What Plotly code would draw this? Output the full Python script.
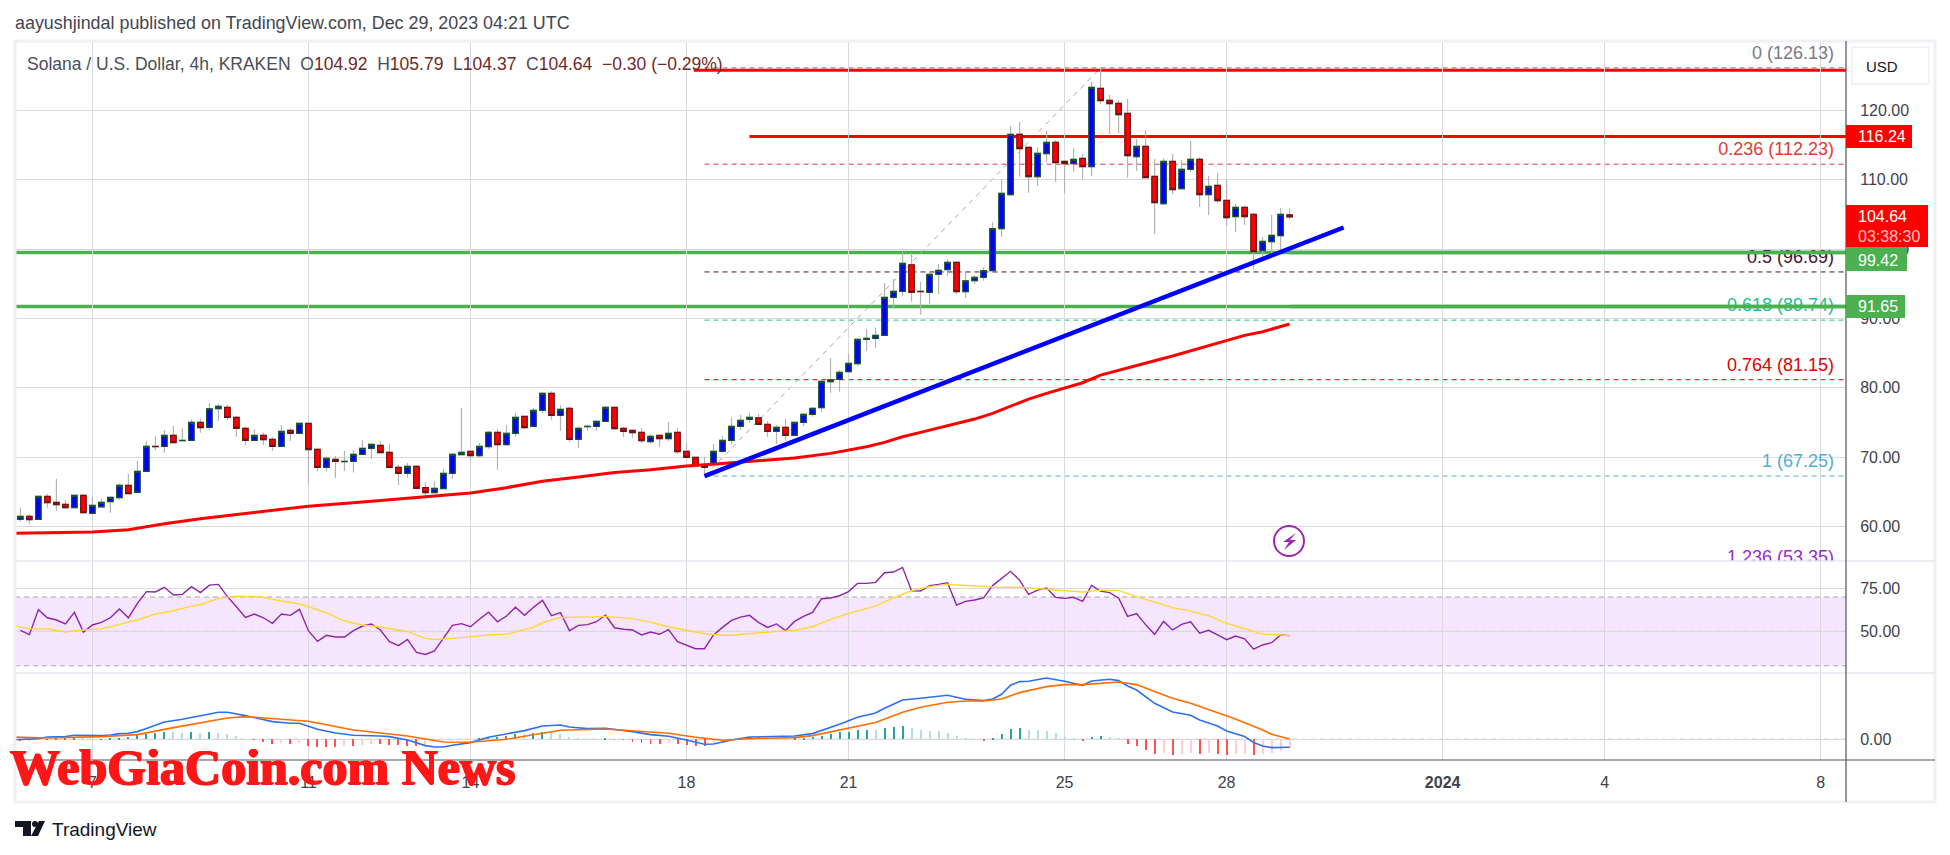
import pandas as pd
import plotly.graph_objects as go

# ---------- data ----------
BAR_START = "2023-12-05 16:00"
open_ = [61.00,61.43,61.00,64.31,63.45,63.16,62.68,64.46,61.86,62.82,
63.55,64.12,65.90,64.89,67.92,71.53,71.53,73.11,72.36,72.39,
74.99,74.27,76.96,77.15,75.71,74.12,72.39,73.11,72.54,71.53,
73.83,73.40,74.84,71.09,68.50,69.65,69.33,69.36,70.38,71.24,
71.68,70.67,68.50,67.64,68.65,65.59,64.86,65.43,67.64,70.33,
70.81,70.19,71.48,73.55,71.77,73.41,75.86,74.42,76.73,79.18,
76.00,77.01,72.54,74.37,74.42,75.14,77.16,74.13,73.84,73.55,
72.21,73.12,72.64,73.55,70.81,69.95,68.74,69.08,70.81,72.39,
74.41,75.42,75.66,74.70,73.69,74.27,73.12,74.99,76.14,77.11,
80.86,81.19,82.30,83.45,86.96,87.10,87.54,93.02,93.89,97.73,
93.89,93.74,96.34,97.01,98.07,93.84,95.42,95.91,96.87,102.93,
107.84,116.54,114.66,110.43,113.75,115.38,112.64,112.31,113.08,111.87,
123.17,121.44,121.01,119.57,113.32,114.81,110.48,106.54,112.64,108.70,
111.49,112.93,107.84,109.18,107.02,104.66,106.01,105.00,99.76,101.06,
101.92,104.92]
high = [62.68,61.77,64.46,64.65,66.82,63.79,64.46,64.65,64.22,63.93,
64.27,66.19,67.54,69.41,72.30,73.02,73.88,74.46,74.17,75.42,
75.57,77.73,77.63,77.58,75.95,74.41,74.03,73.55,72.87,74.60,
74.17,74.99,74.84,71.38,70.04,70.13,70.85,71.00,72.45,71.90,
72.30,71.87,68.84,69.13,68.84,66.36,66.46,68.26,70.57,77.06,
70.99,72.01,73.75,74.03,74.61,76.34,75.96,77.06,79.42,79.51,
77.45,77.30,74.42,74.61,75.14,77.35,77.16,74.32,73.84,74.18,
73.31,73.26,75.04,74.18,72.01,69.95,70.04,71.87,73.02,75.71,
76.05,76.34,76.19,75.18,74.61,75.47,74.99,76.30,77.20,81.19,
84.27,82.54,84.85,87.10,88.45,88.69,95.14,95.66,99.56,99.37,
95.28,96.72,97.83,98.55,98.20,96.72,96.24,97.35,103.85,110.05,
117.74,118.32,114.80,114.66,117.02,115.72,112.70,114.52,113.70,124.09,
126.13,122.21,121.44,121.63,115.87,117.16,112.98,113.08,113.70,112.84,
115.58,113.27,110.53,110.91,109.95,106.49,106.25,105.19,101.68,104.90,
105.86,105.79]
low = [60.66,60.32,61.00,62.68,62.25,62.54,62.68,61.77,61.81,62.82,
61.96,63.88,64.70,64.89,67.92,71.00,70.61,72.06,72.36,72.34,
73.50,73.88,75.18,75.33,72.92,71.72,72.39,71.72,70.85,71.53,
72.30,73.40,66.19,67.97,67.97,66.96,67.97,67.78,70.38,69.75,
70.62,68.50,65.96,67.01,65.40,64.04,64.86,65.43,66.82,70.33,
69.56,69.90,71.20,68.17,71.77,72.93,74.08,74.42,76.34,75.38,
73.74,72.21,71.34,73.79,73.79,75.14,73.94,72.93,72.78,72.01,
71.92,71.44,72.30,70.43,69.95,68.74,67.25,68.59,70.62,71.87,
73.88,74.94,74.70,72.92,71.87,72.30,73.12,74.46,75.81,76.53,
79.27,79.41,82.30,83.12,85.33,85.76,87.54,91.43,93.21,92.40,
90.52,92.06,93.50,96.15,93.50,92.92,94.94,95.42,96.60,101.78,
107.64,110.43,108.12,109.09,112.55,109.71,108.12,111.15,110.10,110.53,
120.91,116.59,116.73,110.29,111.25,110.29,102.16,106.35,107.93,108.70,
111.11,106.06,104.90,106.68,103.32,102.45,103.46,97.11,98.51,99.13,
99.61,104.37]
close = [61.43,60.95,64.31,63.40,63.11,62.68,64.46,61.96,63.02,63.45,
64.17,65.90,64.70,67.92,71.53,71.48,73.11,72.06,72.39,74.99,
74.22,76.96,77.30,75.71,74.12,72.39,73.11,72.49,71.53,73.69,
73.40,74.84,71.05,68.50,69.80,69.36,69.36,70.37,71.24,71.82,
70.62,68.50,67.64,68.65,65.48,64.86,65.48,67.64,70.38,70.67,
70.19,71.53,73.55,71.77,73.41,75.72,74.23,76.73,79.18,76.00,
76.87,72.54,74.13,74.42,75.14,77.16,74.08,73.70,73.50,72.35,
72.98,72.64,73.41,70.76,69.95,68.74,68.50,70.81,72.39,74.41,
75.28,75.71,74.70,73.69,74.27,73.12,74.99,76.14,77.01,80.90,
81.14,82.20,83.50,86.96,87.10,87.54,93.02,93.89,97.92,93.74,
93.85,96.34,96.91,98.07,93.84,95.42,95.91,96.87,102.93,108.03,
116.54,114.47,110.43,113.80,115.38,112.45,112.31,112.93,111.87,123.32,
121.39,120.96,119.37,113.46,114.81,110.29,106.68,112.64,108.56,111.49,
112.93,107.84,109.04,106.97,104.52,106.01,104.66,99.61,101.10,101.97,
105.00,104.64]

ma_idx = [-1,8,12,16,20,24,28,32,38,44,50,54,58,62,66,70,74,78,82,86,90,92,94,96,98,100,102,104,106,108,110,112,114,116,118,120,122,124,126,128,130,132,134,136,138,141]
ma_val = [58.98,59.20,59.50,60.38,61.10,61.72,62.34,62.91,63.52,64.14,64.81,65.58,66.51,67.13,67.75,68.16,68.70,69.08,69.46,69.85,70.52,70.95,71.48,72.11,72.92,73.55,74.22,74.85,75.47,76.29,77.35,78.36,79.17,79.94,80.71,81.82,82.54,83.21,83.89,84.56,85.33,86.05,86.77,87.54,88.07,89.18]

rsi = [50.6,48.1,62.6,57.9,56.6,54.3,61.0,49.6,53.7,55.2,57.9,63.0,57.9,66.3,73.1,72.9,75.6,71.1,71.5,76.0,
72.5,76.9,77.3,70.2,64.3,58.1,60.1,57.9,54.7,60.1,59.3,62.8,50.4,44.2,47.7,46.7,46.7,50.4,53.1,54.3,
50.8,44.0,41.7,45.3,37.8,36.6,38.6,46.1,53.5,54.5,52.7,57.0,61.2,55.6,58.9,64.0,59.3,64.0,68.0,59.1,
60.9,50.4,53.5,53.9,55.6,59.5,52.1,51.2,50.8,47.9,49.6,48.3,51.0,44.0,42.1,39.9,39.9,47.9,52.3,56.4,
58.3,59.3,55.2,52.3,54.3,50.4,55.8,58.7,61.0,69.0,69.4,70.7,73.1,77.9,77.9,78.5,84.1,84.5,87.2,73.6,
73.4,76.6,77.3,78.3,65.3,67.4,68.2,69.4,76.6,80.6,84.9,79.8,71.5,74.0,75.2,69.8,69.2,69.8,67.4,76.7,
73.4,72.5,69.4,58.7,60.3,53.9,48.3,55.8,50.8,54.1,55.6,49.0,50.6,47.9,45.2,47.3,45.7,39.7,42.1,43.4,
47.9,47.5]
rsi_ma_idx = [-1,1,3,5,7,9,10,11,13,15,17,19,20,22,24,26,27,28,31,32,34,36,38,40,43,45,46,48,50,52,54,56,57,58,60,62,65,68,70,72,74,76,78,79,81,84,86,88,90,92,95,97,99,101,103,106,108,111,113,116,118,120,122,124,126,128,130,132,134,136,138,140,141]
rsi_ma = [53.5,51.6,51.4,49.6,50.8,51.6,52.5,54.1,56.6,60.1,62.0,64.7,65.5,69.2,70.5,70.3,70.0,68.6,65.9,64.3,60.9,56.0,53.7,52.5,49.8,45.9,45.3,45.9,46.9,47.9,48.4,51.2,52.3,55.0,58.1,58.3,58.7,57.4,55.4,52.7,50.6,48.6,47.7,47.7,48.8,49.8,50.6,52.7,57.0,60.5,64.7,69.6,73.6,76.0,77.3,76.4,75.8,75.6,74.8,73.6,72.9,74.0,73.8,70.2,66.9,63.8,61.8,59.1,54.7,51.4,48.4,47.9,47.5]

macd_idx = [-1,1,2,3,5,6,7,9,10,11,12,13,14,16,18,20,22,23,25,28,30,31,33,35,37,40,41,43,45,46,47,48,50,52,54,56,58,60,61,63,65,68,70,72,74,76,77,79,81,84,86,88,89,91,93,95,96,98,100,103,105,107,108,109,110,111,112,114,116,118,119,121,122,123,124,126,128,130,131,133,134,136,137,138,139,141]
macd = [-0.07,0,0.07,0.23,0.27,0.4,0.37,0.37,0.43,0.57,0.6,0.77,1.07,1.73,2.0,2.33,2.7,2.7,2.37,1.77,1.6,1.6,1.0,0.63,0.4,0.33,0.27,-0.07,-0.63,-0.77,-0.77,-0.6,-0.33,0.2,0.53,0.87,1.33,1.43,1.23,1.07,1.1,0.77,0.47,0.3,-0.07,-0.5,-0.47,-0.07,0.23,0.3,0.33,0.57,0.87,1.5,2.2,2.63,3.1,3.93,4.1,4.4,4.0,3.87,4.03,4.5,5.4,5.77,5.8,6.13,5.8,5.4,5.83,6.0,5.87,5.33,4.93,3.6,2.73,2.4,1.93,1.33,0.83,0.27,-0.33,-0.67,-0.83,-0.8]
signal_idx = [-1,3,9,13,17,20,23,25,28,32,37,43,47,50,54,58,60,65,70,72,75,78,82,86,88,91,95,98,100,103,105,107,109,111,114,116,118,122,124,126,128,130,133,135,138,139,141]
signal = [0.23,0.13,0.27,0.47,1.17,1.63,2.13,2.27,2.1,1.8,0.93,0.33,-0.27,-0.3,0,0.57,0.9,1.03,0.77,0.6,0.2,-0.1,0.1,0.17,0.37,0.93,1.67,2.7,3.2,3.7,3.83,3.83,4.03,4.67,5.27,5.47,5.47,5.73,5.47,4.77,4.1,3.6,2.7,2.03,0.93,0.5,0.03]
hist = [-0.17,-0.1,-0.03,0.03,0.05,0.05,0.08,0.05,0.03,0.03,
0.1,0.15,0.2,0.4,0.53,0.6,0.73,0.7,0.67,0.73,
0.63,0.73,0.6,0.53,0.33,0.02,-0.07,-0.23,-0.47,-0.4,
-0.47,-0.4,-0.7,-0.73,-0.75,-0.77,-0.7,-0.7,-0.57,-0.47,
-0.47,-0.53,-0.57,-0.63,-0.67,-0.6,-0.3,-0.27,-0.13,-0.07,
-0.05,0.1,0.23,0.27,0.33,0.53,0.5,0.67,0.73,0.7,
0.53,0.2,0.1,0.02,0.01,0.07,-0.03,-0.05,-0.23,-0.33,
-0.43,-0.47,-0.33,-0.47,-0.53,-0.63,-0.67,-0.47,-0.27,-0.07,
0.03,0.2,0.27,0.2,0.17,0.1,0.1,0.17,0.27,0.37,
0.57,0.7,0.77,0.93,0.93,0.9,1.13,1.23,1.33,1.17,
0.97,0.83,0.8,0.67,0.33,0.07,0.03,-0.13,0.07,0.5,
1.03,1.13,0.97,0.93,0.83,0.67,0.2,0.07,-0.13,0.23,
0.33,0.2,0.07,-0.43,-0.67,-1.07,-1.43,-1.4,-1.53,-1.43,
-1.4,-1.43,-1.4,-1.47,-1.57,-1.47,-1.43,-1.53,-1.5,-1.4,
-1.13,-0.9]

fib_ratio = ["0","0.236","0.5","0.618","0.764","1","1.236"]
fib_price = [126.13,112.23,96.69,89.74,81.15,67.25,53.35]
fib_color = ["#787b86","#e53935","#4a1238","#22c08f","#e00000","#54abd8","#9c27d0"]
fib_shown = [True,True,True,True,True,True,False]
res_levels = [125.77,116.24]
res_start_idx = [74.8,81]
sup_levels = [99.5,91.72]
trend_idx = [76,147]
trend_val = [67.25,103.1]

tick_dates = ["2023-12-07","2023-12-11","2023-12-14","2023-12-18","2023-12-21","2023-12-25","2023-12-28","2024-01-01","2024-01-04","2024-01-08"]
tick_text = ["7","11","14","18","21","25","28","<b>2024</b>","4","8"]
price_ticks = [60,70,80,90,100,110,120]

# ---------- geometry ----------
W, H = 1950, 855
L, R = 15, 1846
T, P1, P2, P3, B = 41, 561, 673, 760, 802
EDGE = 1935
FONT = "Liberation Sans"
FIB_LIFT = 0.65
t0 = pd.Timestamp(BAR_START)
def bar_t(i):
    return t0 + pd.Timedelta(hours=4 * i)
def px_t(px):
    return pd.Timestamp("2023-12-07") + pd.Timedelta(days=(px - 92.4) / 54.01)
def X(px): return px / W
def Y(py): return 1 - py / H

times = [bar_t(i) for i in range(len(close))]
xmax = px_t(R)

fig = go.Figure()

# fib labels go below the right-hand part of the support lines
fig.add_trace(go.Scatter(
    x=[px_t(1834)] * len(fib_price), y=[p + FIB_LIFT for p in fib_price], mode="text",
    text=[f"{r} ({p:.2f})" for r, p in zip(fib_ratio, fib_price)],
    textposition="top left", textfont=dict(family=FONT, size=18, color=fib_color),
    hoverinfo="skip", showlegend=False, xaxis="x", yaxis="y"))
for lv in sup_levels:
    fig.add_trace(go.Scatter(x=[bar_t(141), xmax], y=[lv, lv], mode="lines",
                             line=dict(color="#4caf50", width=3.5), hoverinfo="skip",
                             showlegend=False, xaxis="x", yaxis="y"))

# wicks, then bodies
fig.add_trace(go.Candlestick(
    x=times, open=open_, high=high, low=low, close=close, xaxis="x", yaxis="y",
    increasing=dict(line=dict(color="#b4b4b4", width=1.2), fillcolor="#0000ff"),
    decreasing=dict(line=dict(color="#b4b4b4", width=1.2), fillcolor="#ff0000"),
    hoverinfo="skip", showlegend=False))
fig.add_trace(go.Candlestick(
    x=times, open=open_, close=close,
    high=[max(a, b) for a, b in zip(open_, close)],
    low=[min(a, b) for a, b in zip(open_, close)], xaxis="x", yaxis="y",
    increasing=dict(line=dict(color="#14532d", width=1.2), fillcolor="#0000ff"),
    decreasing=dict(line=dict(color="#6b1414", width=1.2), fillcolor="#ff0000"),
    hoverinfo="skip", showlegend=False))

fig.add_trace(go.Scatter(x=[bar_t(i) for i in ma_idx], y=ma_val, mode="lines",
                         line=dict(color="#ff0000", width=3), hoverinfo="skip",
                         showlegend=False, xaxis="x", yaxis="y"))
fig.add_trace(go.Scatter(x=[bar_t(i) for i in trend_idx], y=trend_val, mode="lines",
                         line=dict(color="#0000ff", width=4.5), hoverinfo="skip",
                         showlegend=False, xaxis="x", yaxis="y"))

# RSI
fig.add_trace(go.Scatter(x=times, y=rsi, mode="lines", line=dict(color="#8e24aa", width=1.4),
                         hoverinfo="skip", showlegend=False, xaxis="x", yaxis="y2"))
fig.add_trace(go.Scatter(x=[bar_t(i) for i in rsi_ma_idx], y=rsi_ma, mode="lines",
                         line=dict(color="#fdd835", width=1.4), hoverinfo="skip",
                         showlegend=False, xaxis="x", yaxis="y2"))

# MACD
bar_col = []
for k, v in enumerate(hist):
    prev = hist[k - 1] if k else v
    if v >= 0:
        bar_col.append("#26a69a" if v >= prev else "#b2dfdb")
    else:
        bar_col.append("#ff5252" if v <= prev else "#ffcdd2")
fig.add_trace(go.Bar(x=times, y=hist, marker=dict(color=bar_col, line=dict(width=0)),
                     width=1_600_000, hoverinfo="skip", showlegend=False, xaxis="x", yaxis="y3"))
fig.add_trace(go.Scatter(x=[bar_t(i) for i in macd_idx], y=macd, mode="lines",
                         line=dict(color="#2f6fed", width=1.6), hoverinfo="skip",
                         showlegend=False, xaxis="x", yaxis="y3"))
fig.add_trace(go.Scatter(x=[bar_t(i) for i in signal_idx], y=signal, mode="lines",
                         line=dict(color="#ff6d00", width=1.6), hoverinfo="skip",
                         showlegend=False, xaxis="x", yaxis="y3"))

shapes = []
# data-level drawings under the candles
for r_, p_, c_, s_ in zip(fib_ratio, fib_price, fib_color, fib_shown):
    if s_:
        shapes.append(dict(type="line", xref="x", yref="y", x0=bar_t(76), x1=xmax, y0=p_, y1=p_,
                           layer="below", line=dict(color=c_, width=1, dash="5px,4px")))
shapes.append(dict(type="line", xref="x", yref="y", x0=bar_t(76), x1=bar_t(120),
                   y0=fib_price[5], y1=fib_price[0], layer="below",
                   line=dict(color="#a8a8a8", width=1, dash="5px,5px")))
for lv, si in zip(res_levels, res_start_idx):
    shapes.append(dict(type="line", xref="x", yref="y", x0=bar_t(si), x1=xmax, y0=lv, y1=lv,
                       layer="below", line=dict(color="#ff0000", width=3)))
for lv in sup_levels:
    shapes.append(dict(type="line", xref="paper", yref="y", x0=X(L), x1=X(R), y0=lv, y1=lv,
                       layer="below", line=dict(color="#4caf50", width=3.5)))
# RSI band
shapes.append(dict(type="rect", xref="paper", yref="y2", x0=X(L), x1=X(R), y0=30, y1=70,
                   layer="below", fillcolor="rgba(170,50,240,0.12)", line=dict(width=0)))
for lv in (70, 50, 30):
    shapes.append(dict(type="line", xref="paper", yref="y2", x0=X(L), x1=X(R), y0=lv, y1=lv,
                       layer="below", line=dict(color="#a8a8b0", width=1, dash="5px,4px")))
shapes.append(dict(type="line", xref="paper", yref="y3", x0=X(L), x1=X(R), y0=0, y1=0,
                   layer="below", line=dict(color="#a8a8b0", width=1, dash="5px,4px")))

def pline(x0, y0, x1, y1, color, width=1):
    shapes.append(dict(type="line", xref="paper", yref="paper", x0=X(x0), x1=X(x1),
                       y0=Y(y0), y1=Y(y1), layer="above", line=dict(color=color, width=width)))
def pbox(x0, y0, x1, y1, fill, lcolor=None):
    shapes.append(dict(type="rect", xref="paper", yref="paper", x0=X(x0), x1=X(x1),
                       y0=Y(y0), y1=Y(y1), layer="above", fillcolor=fill,
                       line=dict(width=1 if lcolor else 0, color=lcolor or fill)))
def ppath(pts, fill):
    d = "M " + " L ".join(f"{X(a):.5f},{Y(b):.5f}" for a, b in pts) + " Z"
    shapes.append(dict(type="path", xref="paper", yref="paper", path=d, fillcolor=fill,
                       line=dict(width=0), layer="above"))

# frame and pane separators
shapes.append(dict(type="rect", xref="paper", yref="paper", x0=X(L), x1=X(EDGE), y0=Y(B), y1=Y(T),
                   layer="above", line=dict(color="#f0f0f5", width=3), fillcolor="rgba(0,0,0,0)"))
pline(L, P1, EDGE, P1, "#e4e4ec", 1.5)
pline(L, P2, EDGE, P2, "#e4e4ec", 1.5)
pline(L, P3, EDGE, P3, "#50535e", 1.2)
pline(R, T, R, B, "#50535e", 1.2)

# price labels
pbox(R, 125, 1912, 148, "#ff0000")
pbox(R, 205, 1928, 247, "#ff0000")
pbox(R, 247, 1907, 271, "#4caf50")
pbox(R, 295, 1905, 318, "#4caf50")
pbox(1852, 47, 1929, 84, "#ffffff", "#e8e8ee")

# lightning badge
shapes.append(dict(type="circle", xref="paper", yref="paper", x0=X(1274), x1=X(1304),
                   y0=Y(556), y1=Y(526), layer="above", fillcolor="rgba(0,0,0,0)",
                   line=dict(color="#9c27b0", width=2)))
ppath([(1296, 533), (1283, 542), (1289, 542), (1284, 550), (1296, 540), (1290, 540)], "#9c27b0")

# TradingView mark
ppath([(15, 821), (31, 821), (31, 836), (23, 836), (23, 827), (15, 827)], "#131722")
shapes.append(dict(type="circle", xref="paper", yref="paper", x0=X(32), x1=X(38), y0=Y(827), y1=Y(821),
                   layer="above", fillcolor="#131722", line=dict(width=0)))
ppath([(39, 821), (45, 821), (38, 836), (31, 836)], "#131722")

def note(px, py, text, size, color, anchor="left", bold=False, family=FONT, shadow=None):
    f = dict(family=family, size=size, color=color)
    if shadow:
        f["shadow"] = shadow
    return dict(x=X(px), y=Y(py), xref="paper", yref="paper", text=f"<b>{text}</b>" if bold else text,
                showarrow=False, xanchor=anchor, yanchor="middle", align=anchor, font=f)

VAL = "#6d2a2a"
def val(s): return f'<span style="color:{VAL}">{s}</span>'
legend = ("Solana / U.S. Dollar, 4h, KRAKEN&nbsp;&nbsp;O" + val("104.92") + "&nbsp;&nbsp;H" + val("105.79")
          + "&nbsp;&nbsp;L" + val("104.37") + "&nbsp;&nbsp;C" + val("104.64") + "&nbsp;&nbsp;" + val("−0.30 (−0.29%)"))
annotations = [
    note(13, 23, "aayushjindal published on TradingView.com, Dec 29, 2023 04:21 UTC", 17.9, "#434651"),
    note(24.5, 64, legend, 17.5, "#4b4e58"),
    note(1864, 66, "USD", 15, "#131722"),
    note(1856, 137, "116.24", 16, "#ffffff"),
    note(1856, 217, "104.64", 16, "#ffffff"),
    note(1856, 236, "03:38:30", 16, "#ffc0c0"),
    note(1856, 260, "99.42", 16, "#ffffff"),
    note(1856, 306, "91.65", 16, "#ffffff"),
    note(8, 767, "WebGiaCoin.com News", 50, "#ff1616", bold=True, family="Liberation Serif",
         shadow="1px 0 0 #ff1616, -1px 0 0 #ff1616, 0 1px 0 #ff1616"),
    note(50, 829, "TradingView", 19, "#131722"),
]

GRID = "#d9d9de"
yax = dict(side="right", anchor="x", showline=False, zeroline=False, showgrid=True, gridcolor=GRID,
           gridwidth=1, ticks="outside", ticklen=10, tickcolor="rgba(0,0,0,0)",
           tickfont=dict(family=FONT, size=16, color="#3f424c"), tickformat=".2f", fixedrange=True)
fig.update_layout(
    width=W, height=H, margin=dict(l=0, r=0, t=0, b=0), paper_bgcolor="#ffffff", plot_bgcolor="#ffffff",
    showlegend=False, boxgap=0.39, boxgroupgap=0, bargap=0, barmode="overlay", dragmode=False,
    xaxis=dict(type="date", domain=[X(L), X(R)], anchor="y3", range=[px_t(L), xmax],
               rangeslider=dict(visible=False), tickmode="array", tickvals=tick_dates, ticktext=tick_text,
               showgrid=True, gridcolor=GRID, gridwidth=1, showline=False, zeroline=False,
               ticks="outside", ticklen=8, tickcolor="rgba(0,0,0,0)",
               tickfont=dict(family=FONT, size=16, color="#3f424c"), fixedrange=True),
    yaxis=dict(domain=[Y(P1), Y(T)], range=[55.0, 130.0], tickmode="array", tickvals=price_ticks, **yax),
    yaxis2=dict(domain=[Y(P2), Y(P1)], range=[25.8, 90.9], tickmode="array", tickvals=[50, 75], **yax),
    yaxis3=dict(domain=[Y(P3), Y(P2)], range=[-2.07, 6.63], tickmode="array", tickvals=[0], **yax),
    shapes=shapes, annotations=annotations,
)
fig.write_html("out.html", post_script="document.body.style.margin='0';document.body.style.overflow='hidden';",
               config=dict(displayModeBar=False))
